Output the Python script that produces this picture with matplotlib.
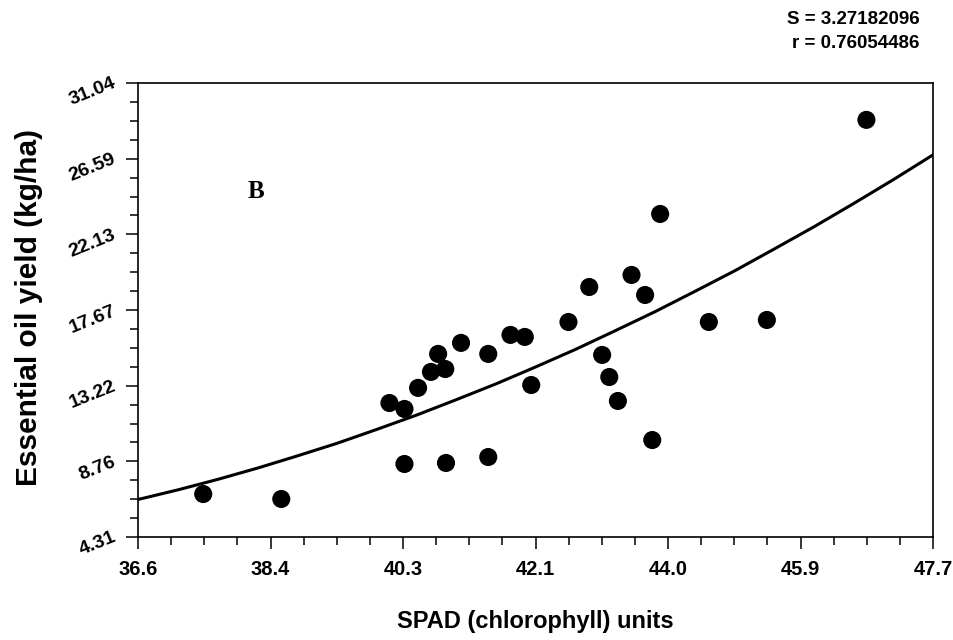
import matplotlib
matplotlib.use("Agg")
import matplotlib.pyplot as plt
from matplotlib.ticker import FixedLocator, AutoMinorLocator

# SPAD readings and essential oil yield
spad = [37.51, 38.60, 40.11, 40.32, 40.32, 40.51, 40.69, 40.79, 40.89, 40.90,
        41.11, 41.49, 41.49, 41.80, 42.00, 42.09, 42.61, 42.90, 43.08, 43.18,
        43.30, 43.49, 43.68, 43.78, 43.89, 44.57, 45.38, 46.77]
oil_yield = [6.84, 6.55, 12.20, 11.85, 8.61, 13.09, 14.03, 15.09, 14.20, 8.67,
             15.74, 15.09, 9.02, 16.21, 16.09, 13.26, 16.97, 19.03, 15.03, 13.73,
             12.32, 19.74, 18.56, 10.02, 23.33, 16.97, 17.09, 28.87]

# regression curve
fit_x = [36.60, 37.16, 37.71, 38.27, 38.82, 39.38, 39.93, 40.49, 41.04, 41.60,
         42.15, 42.71, 43.26, 43.82, 44.37, 44.93, 45.48, 46.04, 46.59, 47.15, 47.70]
fit_y = [6.52, 7.09, 7.70, 8.37, 9.08, 9.83, 10.64, 11.49, 12.39, 13.33,
         14.32, 15.36, 16.45, 17.58, 18.76, 19.98, 21.26, 22.58, 23.94, 25.36, 26.81]

x_ticks = [36.6, 38.45, 40.3, 42.15, 44.0, 45.85, 47.7]
x_labels = ["36.6", "38.4", "40.3", "42.1", "44.0", "45.9", "47.7"]
y_ticks = [4.31, 8.765, 13.22, 17.675, 22.13, 26.585, 31.04]
y_labels = ["4.31", "8.76", "13.22", "17.67", "22.13", "26.59", "31.04"]

sans = ["Liberation Sans", "DejaVu Sans"]

fig = plt.figure(figsize=(9.54, 6.4), dpi=100)
ax = fig.add_axes([0.1447, 0.1609, 0.8333, 0.7094])

ax.plot(fit_x, fit_y, color="black", lw=2.2, zorder=2)
ax.scatter(spad, oil_yield, s=170, color="black", edgecolors="none", zorder=3)

ax.set_xlim(36.6, 47.7)
ax.set_ylim(4.31, 31.04)
ax.xaxis.set_major_locator(FixedLocator(x_ticks))
ax.yaxis.set_major_locator(FixedLocator(y_ticks))
ax.xaxis.set_minor_locator(AutoMinorLocator(4))
ax.yaxis.set_minor_locator(AutoMinorLocator(4))
ax.set_xticklabels(x_labels, family=sans, fontweight="bold", fontsize=14.5)
ax.set_yticklabels(y_labels, family=sans, fontweight="bold", fontsize=14,
                   rotation=22, va="center", ha="right", rotation_mode="anchor")

ax.tick_params(which="major", direction="out", length=8.5, width=1.1)
ax.tick_params(axis="x", which="major", pad=8)
ax.tick_params(axis="y", which="major", pad=8)
ax.tick_params(which="minor", direction="out", length=5.5, width=1.1)
for sp in ax.spines.values():
    sp.set_linewidth(1.2)

ax.set_xlabel("SPAD (chlorophyll) units", family=sans, fontweight="bold",
              fontsize=17, va="center")
ax.xaxis.set_label_coords(0.4994, -0.187)
ax.set_ylabel("Essential oil yield (kg/ha)", family=sans,
              fontweight="bold", fontsize=21.5, va="center")
ax.yaxis.set_label_coords(-0.137, 0.505)

ax.text(0.148, 0.76, "B", transform=ax.transAxes, family=["Liberation Serif", "DejaVu Serif"],
        fontweight="bold", fontsize=18, ha="center", va="center")

fig.text(0.964, 0.970, "S = 3.27182096", family=sans, fontweight="bold",
         fontsize=13.5, ha="right", va="center")
fig.text(0.964, 0.932, "r = 0.76054486", family=sans, fontweight="bold",
         fontsize=13.5, ha="right", va="center")

fig.savefig("out.png", dpi=100)
